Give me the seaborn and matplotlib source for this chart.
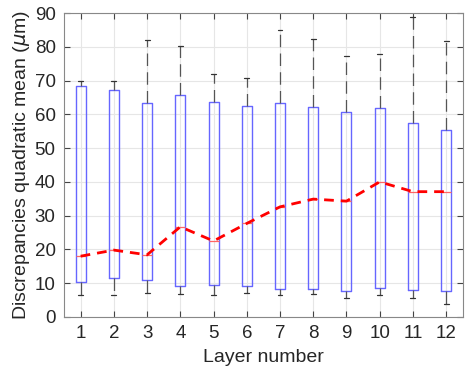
import matplotlib
matplotlib.use("Agg")
import matplotlib.pyplot as plt
import seaborn as sns
import pandas as pd

layers = [1, 2, 3, 4, 5, 6, 7, 8, 9, 10, 11, 12]
q1 = [10.4, 11.5, 10.9, 9.2, 9.4, 9.1, 8.2, 8.4, 7.6, 8.7, 7.9, 7.8]
q3 = [68.5, 67.3, 63.4, 65.8, 63.7, 62.6, 63.3, 62.1, 60.6, 61.8, 57.5, 55.3]
medians = [18.0, 19.8, 18.4, 26.7, 22.5, 27.7, 32.6, 34.9, 34.3, 40.0, 37.1, 37.1]
whisk_lo = [6.6, 6.6, 7.1, 6.9, 6.5, 7.2, 6.5, 6.8, 5.5, 6.6, 5.6, 3.9]
whisk_hi = [70.0, 69.8, 81.9, 80.1, 71.8, 70.7, 84.9, 82.2, 77.2, 77.8, 88.7, 81.8]

sns.set_theme(style="white")
plt.rcParams['font.family'] = ['Liberation Sans', 'DejaVu Sans']

fig = plt.figure(figsize=(4.68, 3.76), dpi=100)
ax = fig.add_axes([0.1368, 0.157, 0.852, 0.8084])

stats = []
for i in range(len(layers)):
    stats.append(dict(med=medians[i], q1=q1[i], q3=q3[i],
                      whislo=whisk_lo[i], whishi=whisk_hi[i], fliers=[]))

ax.bxp(stats, positions=layers, widths=0.3, showfliers=False,
       boxprops=dict(color='#6666ff', linewidth=1.0),
       whiskerprops=dict(color='#555555', linewidth=0.9, linestyle=(0, (10, 5))),
       capprops=dict(color='#333333', linewidth=0.9),
       medianprops=dict(color='#ff6666', linewidth=0.9),
       capwidths=0.15)

df = pd.DataFrame({"layer": layers, "median": medians})
sns.lineplot(data=df, x="layer", y="median", ax=ax, color='red',
             linewidth=2.0, linestyle=(0, (3.5, 2.5)), zorder=5)

ax.set_xlim(0.5, 12.5)
ax.set_ylim(0, 90)
ax.set_xticks(layers)
ax.set_xticklabels([str(l) for l in layers])
ax.set_yticks(range(0, 91, 10))
ax.grid(True, color='#e6e6e6', linewidth=0.8)
ax.set_axisbelow(True)
ax.tick_params(direction='in', length=4, color='#444444', labelsize=13.5,
               labelcolor='#262626', top=True, right=True, bottom=True, left=True,
               width=0.8, pad=6)
for s in ax.spines.values():
    s.set_color('#888888')
    s.set_linewidth(0.8)
ax.set_xlabel('Layer number', fontsize=14, color='#262626', labelpad=5)
ax.set_ylabel(r'Discrepancies quadratic mean ($\mu$m)', fontsize=14, color='#262626', labelpad=2)

fig.savefig('out.png', dpi=100)
